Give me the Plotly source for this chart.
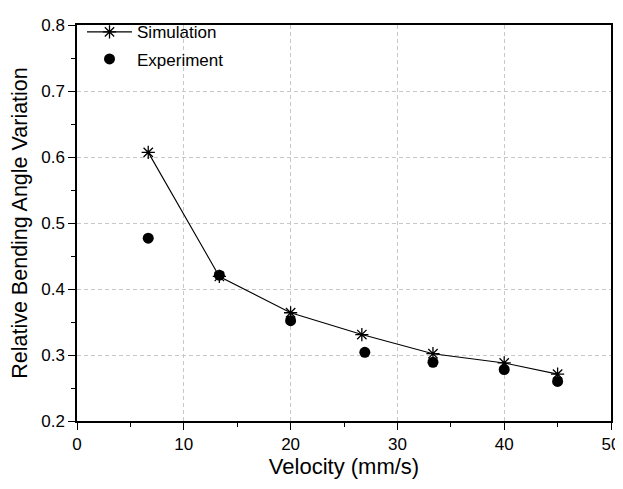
import plotly.graph_objects as go

sim_x = [6.67, 13.33, 20, 26.67, 33.33, 40, 45]
sim_y = [0.607, 0.419, 0.364, 0.331, 0.302, 0.288, 0.271]
exp_x = [6.67, 13.33, 20, 26.95, 33.33, 40, 45]
exp_y = [0.477, 0.421, 0.352, 0.304, 0.289, 0.278, 0.260]

x_ticks = [0, 10, 20, 30, 40, 50]
y_ticks = [0.2, 0.3, 0.4, 0.5, 0.6, 0.7, 0.8]

FONT = "Liberation Sans, Arial"

fig = go.Figure()
fig.add_trace(go.Scatter(
    x=sim_x, y=sim_y, mode="lines+markers", name="Simulation", legendgroup="a",
    line=dict(color="black", width=1.1),
    marker=dict(symbol="asterisk-open", size=11, color="black",
                line=dict(color="black", width=1.3)),
))
fig.add_trace(go.Scatter(
    x=exp_x, y=exp_y, mode="markers", name="Experiment", legendgroup="b",
    marker=dict(symbol="circle", size=11, color="black"),
))

axis_common = dict(
    showline=True, linecolor="black", linewidth=1.5, mirror=True,
    ticks="outside", ticklen=7, tickwidth=1.3, tickcolor="black",
    showgrid=True, gridcolor="#c8c8c8", griddash="4px,3px", gridwidth=1,
    zeroline=False, automargin=False, ticklabeloverflow="allow",
    tickfont=dict(family=FONT, size=17, color="black"),
)

fig.update_xaxes(
    range=[0, 50], tickvals=x_ticks, ticktext=[str(v) for v in x_ticks],
    minor=dict(dtick=5, ticks="outside", ticklen=4, tickwidth=1.3, tickcolor="black", showgrid=False),
    title=dict(text="Velocity (mm/s)", font=dict(family=FONT, size=22, color="black"), standoff=5),
    **axis_common,
)
fig.update_yaxes(
    range=[0.2, 0.8], tickvals=y_ticks, ticktext=[f"{v:.1f}" for v in y_ticks],
    minor=dict(dtick=0.05, ticks="outside", ticklen=4, tickwidth=1.3, tickcolor="black", showgrid=False),
    title=dict(text="Relative Bending Angle Variation", font=dict(family=FONT, size=21.5, color="black"), standoff=10),
    **axis_common,
)

# page body has an 8px margin, so the figure is sized to fill the rest of the window
fig.update_layout(
    width=615, height=473,
    margin=dict(l=69, r=12, t=6, b=60),
    plot_bgcolor="white", paper_bgcolor="white",
    showlegend=True,
    legend=dict(x=0.0094, y=1.027, xanchor="left", yanchor="top",
                bgcolor="rgba(0,0,0,0)", itemwidth=45,
                traceorder="grouped", tracegroupgap=2,
                font=dict(family=FONT, size=17, color="black")),
)

fig.write_html("out.html")
